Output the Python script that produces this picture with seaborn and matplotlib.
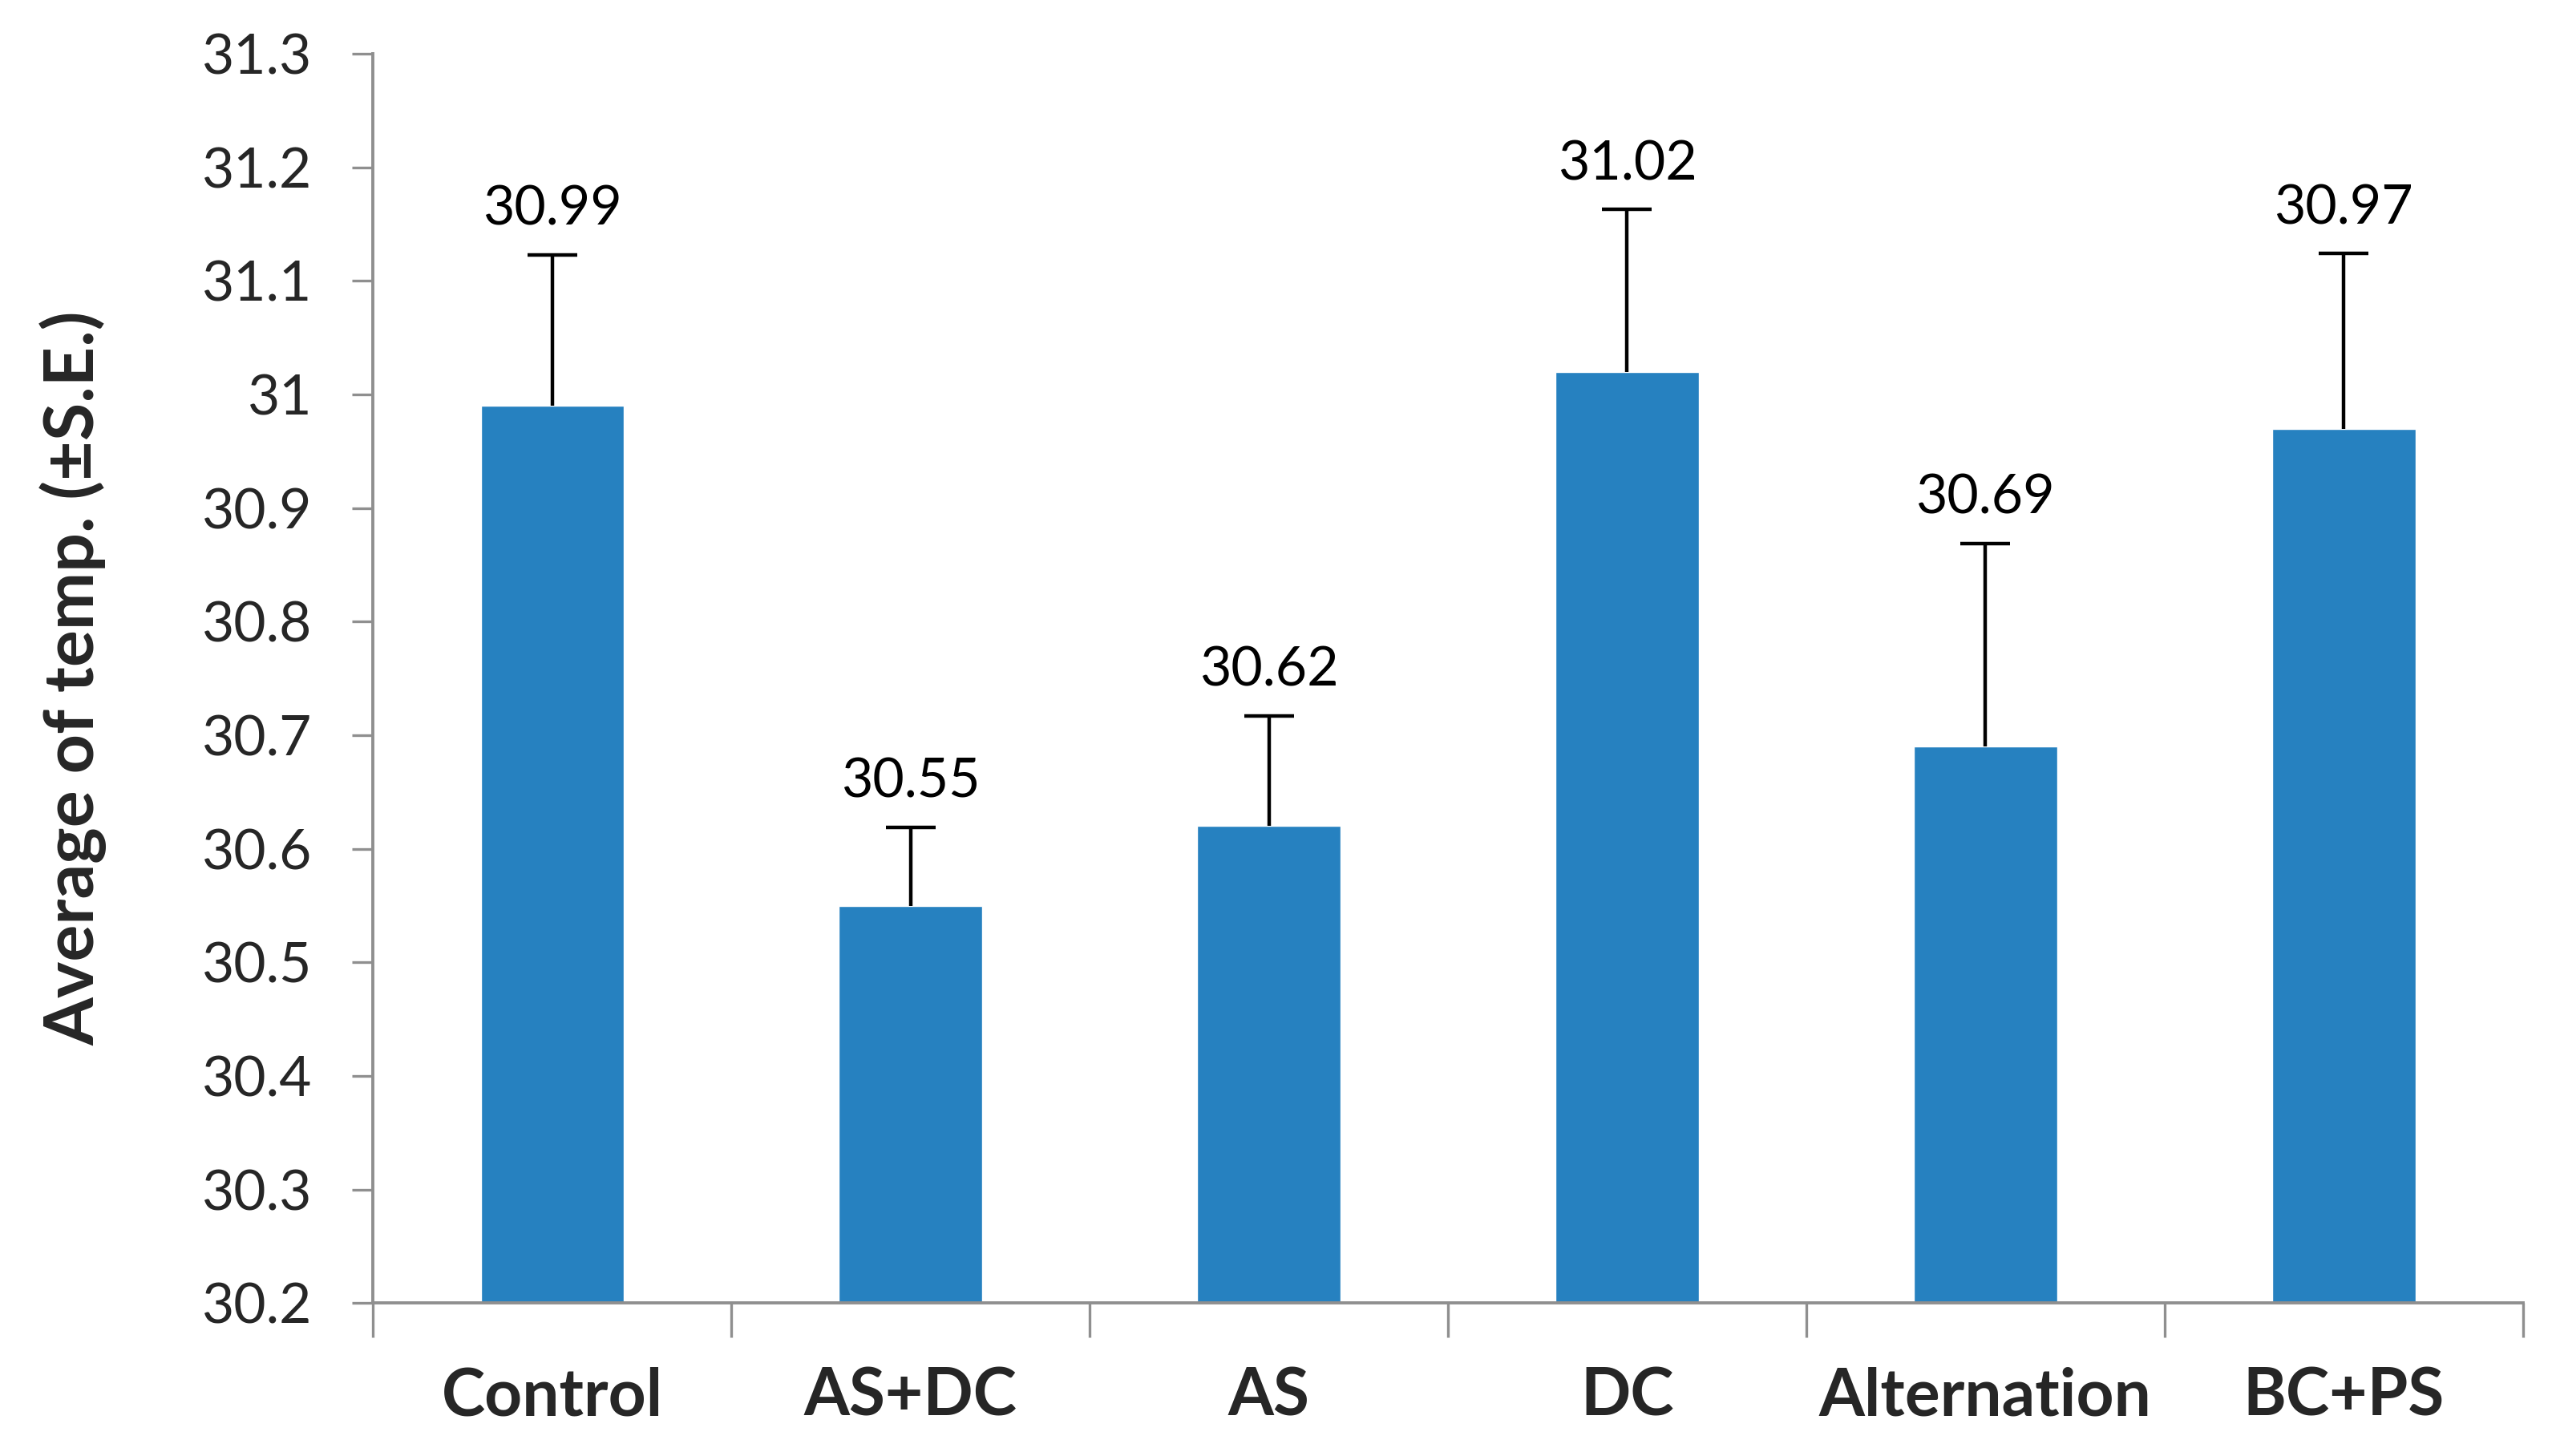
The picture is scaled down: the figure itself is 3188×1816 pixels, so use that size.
import matplotlib
matplotlib.use("Agg")
import matplotlib.pyplot as plt
import matplotlib.ticker as mticker
import numpy as np
import pandas as pd
import seaborn as sns

groups = ["Control", "AS+DC", "AS", "DC", "Alternation", "BC+PS"]
mean_temp = [30.99, 30.55, 30.62, 31.02, 30.69, 30.97]
se_temp = [0.133, 0.069, 0.097, 0.143, 0.179, 0.154]
y_ticks = [30.2, 30.3, 30.4, 30.5, 30.6, 30.7, 30.8, 30.9, 31.0, 31.1, 31.2, 31.3]

df = pd.DataFrame({"group": groups, "temp": mean_temp, "se": se_temp})

sns.set_theme(style="white")
plt.rcParams["font.family"] = ["Lato", "DejaVu Sans"]

bar_color = "#2681c0"
axis_color = "#8f8f8f"

fig, ax = plt.subplots(figsize=(31.88, 18.16), dpi=100)
fig.subplots_adjust(left=0.146, right=0.987, top=0.963, bottom=0.105)

sns.barplot(data=df, x="group", y="temp", color=bar_color, width=0.4,
            errorbar=None, saturation=1, ax=ax)

# upper-only error bars, Excel style
x_pos = np.arange(len(groups))
_, caps, _ = ax.errorbar(x_pos, df["temp"], yerr=[np.zeros(len(groups)), df["se"]],
                         fmt="none", ecolor="black", elinewidth=3.2, capsize=22,
                         capthick=3.2)
caps[0].set_visible(False)

for x, v, s in zip(x_pos, df["temp"], df["se"]):
    ax.annotate(f"{v:.2f}", (x, v + s), xytext=(0, 18), textcoords="offset points",
                ha="center", va="bottom", fontsize=49, color="black")

ax.set_ylim(30.2, 31.3)
ax.set_xlim(-0.5, len(groups) - 0.5)
ax.set_yticks(y_ticks)
ax.yaxis.set_major_formatter(mticker.FuncFormatter(lambda v, p: f"{v:g}"))

# category boundary ticks below x axis
ax.set_xticks(np.arange(-0.5, len(groups), 1.0), minor=True)
ax.tick_params(axis="x", which="minor", length=31, width=2.4, color=axis_color, bottom=True)
ax.tick_params(axis="x", which="major", length=0, pad=57, labelsize=59)
ax.tick_params(axis="y", which="major", length=19, width=2.4, color=axis_color,
               pad=36, labelsize=50, left=True)

for lab in ax.get_xticklabels():
    lab.set_fontweight("bold")

sns.despine(ax=ax)
for side in ["left", "bottom"]:
    ax.spines[side].set_color(axis_color)
    ax.spines[side].set_linewidth(2.8)

ax.set_xlabel("")
ax.set_ylabel("Average of temp. (±S.E.)", fontsize=62, fontweight="bold")
ax.yaxis.set_label_coords(-0.124, 0.5)

fig.savefig("out.png", dpi=100, facecolor="white")
